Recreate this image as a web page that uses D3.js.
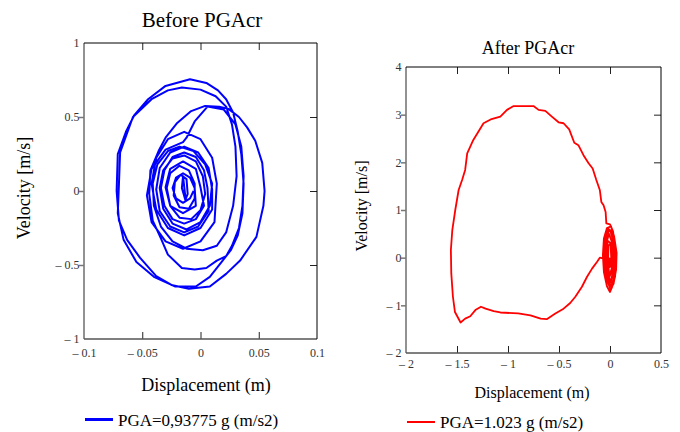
<!DOCTYPE html>
<meta charset="utf-8">
<html>
<head>
<title>Phase portraits</title>
<style>
  body { margin: 0; background: #fff; }
</style>
<script src="https://cdn.jsdelivr.net/npm/d3@7"></script>
</head>
<body>
<script>

// ---- data: [displacement (m), velocity (m/s)] ----

// before PGAcr: small loops growing out of the centre
var beforeInner = [
  [-0.006,0.00],[-0.009,-0.05],[-0.015,-0.08],[-0.021,-0.05],[-0.024,0.02],[-0.021,0.09],[-0.015,0.12],[-0.009,0.09],[-0.005,0.02],
  [-0.004,-0.10],[-0.015,-0.15],[-0.026,-0.10],[-0.030,0.025],[-0.026,0.15],[-0.015,0.20],[-0.004,0.15],[0.000,0.025],
  [0.003,-0.10],[-0.004,-0.19],[-0.014,-0.22],[-0.024,-0.19],[-0.031,-0.10],[-0.034,0.02],[-0.031,0.14],[-0.024,0.23],[-0.014,0.26],[-0.004,0.23],[0.003,0.14],[0.006,0.02],
  [0.007,-0.135],[-0.002,-0.24],[-0.014,-0.28],[-0.026,-0.24],[-0.035,-0.135],[-0.038,0.01],[-0.035,0.155],[-0.026,0.26],[-0.014,0.30],[-0.002,0.26],[0.007,0.155],[0.010,0.01],
  [0.010,-0.125],[0.000,-0.25],[-0.014,-0.30],[-0.028,-0.25],[-0.038,-0.125],[-0.042,0.05],[-0.038,0.225],[-0.028,0.35],[-0.014,0.40],[0.000,0.35],[0.010,0.225],[0.014,0.05],
  [0.012,-0.21],[0.000,-0.34],[-0.015,-0.39],[-0.030,-0.34],[-0.042,-0.21],[-0.046,-0.03],[-0.042,0.15],[-0.030,0.28],[-0.015,0.33]
];

// before PGAcr: the 0.57 loop
var beforeMid = [
  [-0.012,0.36],[-0.005,0.47],[0.006,0.57],[0.020,0.55],[0.030,0.45],[0.035,0.30],[0.037,0.10],[0.036,-0.10],[0.033,-0.25],
  [0.027,-0.37],[0.022,-0.44],[0.014,-0.47],[0.005,-0.52],[-0.005,-0.53],[-0.016,-0.52],[-0.028,-0.43],[-0.034,-0.32],
  [-0.041,-0.20],[-0.044,-0.02],[-0.043,0.14],[-0.036,0.27],[-0.030,0.36],[-0.020,0.46],[-0.008,0.54],[0.004,0.575],
  [0.016,0.57],[0.024,0.555]
];

// before PGAcr: the two large loops
var beforeOuter = [
  [0.033,0.50],[0.040,0.43],[0.047,0.34],[0.053,0.19],[0.055,0.0],[0.054,-0.10],[0.048,-0.31],[0.034,-0.47],[0.022,-0.56],
  [0.008,-0.645],[-0.010,-0.66],[-0.025,-0.635],[-0.038,-0.575],[-0.052,-0.45],[-0.063,-0.33],[-0.070,-0.20],[-0.072,0.0],
  [-0.071,0.25],[-0.064,0.40],[-0.057,0.51],[-0.045,0.62],[-0.030,0.71],[-0.009,0.755],[0.005,0.73],[0.015,0.68],[0.022,0.62],
  [0.028,0.53],[0.032,0.40],[0.035,0.25],[0.037,0.05],[0.036,-0.15],[0.032,-0.30],[0.026,-0.40],[0.018,-0.48],[0.008,-0.58],
  [-0.004,-0.645],[-0.022,-0.645],[-0.040,-0.58],[-0.055,-0.48],[-0.066,-0.33],[-0.071,-0.15],[-0.070,0.05],[-0.069,0.26],
  [-0.058,0.50],[-0.042,0.62],[-0.028,0.68],[-0.016,0.70],[0.000,0.685],[0.013,0.64],[0.022,0.57]
];

// before PGAcr: decay back into the centre
var beforeDecay = [
  [0.027,0.45],[0.030,0.30],[0.031,0.10],[0.028,-0.10],[0.022,-0.28],[0.014,-0.37],[0.002,-0.40],[-0.012,-0.39],[-0.024,-0.34],
  [-0.034,-0.24],[-0.040,-0.10],[-0.041,0.05],[-0.037,0.18],[-0.028,0.27],[-0.018,0.30],[-0.006,0.27],[0.004,0.18],[0.010,0.05],
  [0.008,-0.10],[0.000,-0.21],[-0.012,-0.26],[-0.024,-0.22],[-0.032,-0.12],[-0.035,0.02],[-0.032,0.14],[-0.024,0.22],[-0.014,0.24],
  [-0.004,0.20],[0.002,0.10],[0.004,-0.02],
  [0.000,-0.13],[-0.008,-0.19],[-0.018,-0.18],[-0.026,-0.10],[-0.029,0.02],[-0.026,0.12],[-0.018,0.17],[-0.010,0.14],[-0.005,0.05],[-0.005,-0.05],
  [-0.010,-0.12],[-0.018,-0.11],[-0.023,-0.03],[-0.022,0.06],[-0.017,0.11],[-0.012,0.08],[-0.011,-0.02],[-0.013,-0.06],[-0.016,0.02],[-0.015,0.10],[-0.013,-0.04]
];

// after PGAcr: oscillation near zero before the slide
var afterPre = [
  [0.0,0.0],[0.02,-0.2],[0.0,-0.35],[-0.03,-0.2],[-0.04,0.1],[-0.02,0.35],[0.01,0.3],[0.03,0.05],[0.03,-0.3],[0.005,-0.5],
  [-0.04,-0.35],[-0.06,0.0],[-0.05,0.4],[-0.02,0.6],[0.02,0.55],[0.05,0.2],[0.03,-0.05],[-0.06,-0.02],[-0.10,0.0]
];

// after PGAcr: the big excursion
var afterLoop = [
  [-0.128,-0.09],[-0.176,-0.23],[-0.225,-0.40],[-0.275,-0.61],[-0.34,-0.82],[-0.39,-0.95],[-0.455,-1.07],[-0.536,-1.17],
  [-0.62,-1.29],[-0.68,-1.28],[-0.78,-1.21],[-0.90,-1.17],[-1.075,-1.15],[-1.14,-1.12],[-1.22,-1.07],[-1.265,-1.03],
  [-1.32,-1.10],[-1.37,-1.23],[-1.42,-1.28],[-1.465,-1.36],[-1.52,-1.14],[-1.54,-0.82],[-1.556,-0.33],[-1.56,0.16],
  [-1.546,0.58],[-1.517,1.0],[-1.484,1.42],[-1.45,1.63],[-1.42,1.84],[-1.40,2.19],[-1.34,2.47],[-1.24,2.82],[-1.17,2.90],
  [-1.075,2.96],[-1.01,3.10],[-0.945,3.18],[-0.75,3.18],[-0.70,3.10],[-0.634,3.08],[-0.57,2.96],[-0.504,2.84],[-0.455,2.82],
  [-0.40,2.69],[-0.35,2.41],[-0.31,2.36],[-0.26,2.15],[-0.21,1.98],[-0.17,1.87],[-0.134,1.63],[-0.10,1.42],[-0.085,1.17],
  [-0.063,1.10],[-0.043,0.96],[-0.036,0.72]
];

// after PGAcr: oscillation near zero after the slide
var afterPost = [
  [0.00,0.70],[0.03,0.55],[0.05,0.2],[0.06,-0.1],[0.05,-0.4],[0.02,-0.62],[0.00,-0.72],[-0.03,-0.6],[-0.06,-0.3],[-0.07,0.05],
  [-0.06,0.4],[-0.03,0.62],[0.01,0.66],[0.04,0.45],[0.065,0.1],[0.06,-0.25],[0.035,-0.55],[0.005,-0.66],[-0.025,-0.5],
  [-0.05,-0.2],[-0.06,0.15],[-0.045,0.45],[-0.015,0.6],[0.02,0.55],[0.045,0.25],[0.05,-0.1],[0.035,-0.45],[0.01,-0.6],
  [-0.02,-0.45],[-0.04,-0.15],[-0.045,0.2],[-0.03,0.5],[0.0,0.58],[0.025,0.4],[0.04,0.05],[0.03,-0.35],[0.005,-0.52],
  [-0.02,-0.35],[-0.035,0.0],[-0.03,0.35],[-0.01,0.5],[0.015,0.35],[0.025,0.0],[0.015,-0.3],[-0.005,-0.4],[-0.02,-0.1],
  [-0.015,0.25],[0.005,0.3],[0.012,0.0],[0.0,-0.2],[-0.01,0.0]
];

var beforeXTicks = [-0.1, -0.05, 0, 0.05, 0.1];
var beforeYTicks = [-1, -0.5, 0, 0.5, 1];
var afterXTicks = [-2, -1.5, -1, -0.5, 0, 0.5];
var afterYTicks = [-2, -1, 0, 1, 2, 3, 4];

// ---- drawing ----

var width = 680, height = 432;
var serif = "'Liberation Serif', 'Times New Roman', Times, serif";

var svg = d3.select("body").append("svg")
    .attr("width", width)
    .attr("height", height)
    .attr("font-family", serif);

// mathcad style minus: "– 0.5"
var fmt = function(d) {
  return d < 0 ? "\u2013 " + (-d) : "" + d;
}

var drawPanel = function(p) {
  var x = d3.scaleLinear().domain(p.xDomain).range(p.xRange);
  var y = d3.scaleLinear().domain(p.yDomain).range(p.yRange);
  var x0 = p.xRange[0], x1 = p.xRange[1], y0 = p.yRange[1], y1 = p.yRange[0];
  var xIn = p.xTicks.slice(1, -1), yIn = p.yTicks.slice(1, -1);

  svg.append("clipPath").attr("id", p.id)
    .append("rect").attr("x", x0).attr("y", y0).attr("width", x1 - x0).attr("height", y1 - y0);

  var line = d3.line().x(d => x(d[0])).y(d => y(d[1]));
  svg.append("path")
    .datum(p.data)
    .attr("d", line)
    .attr("clip-path", "url(#" + p.id + ")")
    .style("fill", "none")
    .style("stroke", p.color)
    .style("stroke-width", p.width)
    .style("stroke-linejoin", "round");

  // tick labels
  var gl = svg.append("g").attr("transform", `translate(${x0},0)`)
    .call(d3.axisLeft(y).tickValues(p.yTicks).tickSize(0).tickPadding(p.yPad).tickFormat(fmt));
  var gb = svg.append("g").attr("transform", `translate(0,${y1})`)
    .call(d3.axisBottom(x).tickValues(p.xTicks).tickSize(0).tickPadding(p.xPad).tickFormat(fmt));
  [gl, gb].forEach(function(g) {
    g.select(".domain").remove();
    g.attr("font-family", serif).attr("font-size", 12);
    g.selectAll("text").style("font-family", serif).style("fill", "#333");
  });

  // tick marks
  var tl = svg.append("g").attr("transform", `translate(${x0},0)`)
    .call(d3.axisLeft(y).tickValues(yIn).tickSize(5).tickFormat(""));
  var tb = svg.append("g").attr("transform", `translate(0,${y1})`)
    .call(d3.axisBottom(x).tickValues(xIn).tickSize(-7).tickFormat(""));
  var tt = svg.append("g").attr("transform", `translate(0,${y0})`)
    .call(d3.axisTop(x).tickValues(xIn).tickSize(-7).tickFormat(""));
  var tr = svg.append("g").attr("transform", `translate(${x1},0)`)
    .call(d3.axisRight(y).tickValues(yIn).tickSize(-7).tickFormat(""));
  [tl, tb, tt, tr].forEach(g => g.select(".domain").remove());
  tl.selectAll("line").style("stroke", "#777").style("stroke-width", 1.5);
  [tb, tt, tr].forEach(g => g.selectAll("line").style("stroke", "#222"));

  // frame: left / bottom grey, top / right black
  svg.append("line").attr("x1", x0).attr("x2", x0).attr("y1", y0).attr("y2", y1)
    .style("stroke", "#777").style("stroke-width", 1.6);
  svg.append("line").attr("x1", x0).attr("x2", x1).attr("y1", y1).attr("y2", y1)
    .style("stroke", "#555").style("stroke-width", 1.3);
  svg.append("line").attr("x1", x0).attr("x2", x1).attr("y1", y0).attr("y2", y0)
    .style("stroke", "#000").style("stroke-width", 1);
  svg.append("line").attr("x1", x1).attr("x2", x1).attr("y1", y0).attr("y2", y1)
    .style("stroke", "#000").style("stroke-width", 1);

  // titles
  svg.append("text").attr("x", p.title[1]).attr("y", p.title[2])
    .attr("text-anchor", "middle").style("font-family", serif)
    .style("font-size", p.title[3] + "px").text(p.title[0]);
  svg.append("text").attr("x", p.xLabel[1]).attr("y", p.xLabel[2])
    .attr("text-anchor", "middle").style("font-family", serif)
    .style("font-size", p.labelSize + "px").text(p.xLabel[0]);
  svg.append("text")
    .attr("transform", `translate(${p.yLabel[1]},${p.yLabel[2]}) rotate(-90)`)
    .attr("text-anchor", "middle").style("font-family", serif)
    .style("font-size", p.labelSize + "px").text(p.yLabel[0]);

  // legend
  svg.append("line").attr("x1", p.legend[1]).attr("x2", p.legend[1] + 28)
    .attr("y1", p.legend[2]).attr("y2", p.legend[2])
    .style("stroke", p.color).style("stroke-width", p.legend[3]);
  svg.append("text").attr("x", p.legend[1] + 33).attr("y", p.legend[2] + 6)
    .style("font-family", serif).style("font-size", "17px").text(p.legend[0]);
}

drawPanel({
  id: "clipBefore",
  data: beforeInner.concat(beforeMid, beforeOuter, beforeDecay),
  color: "#0000ff", width: 2,
  xDomain: [-0.1, 0.1], xRange: [84, 317],
  yDomain: [-1, 1], yRange: [339, 43],
  xTicks: beforeXTicks, yTicks: beforeYTicks,
  xPad: 9, yPad: 4.5,
  title: ["Before PGAcr", 202, 27, 21],
  xLabel: ["Displacement (m)", 206, 391],
  yLabel: ["Velocity [m/s]", 30, 188],
  labelSize: 18,
  legend: ["PGA=0,93775 g (m/s2)", 85, 419.5, 3]
});

drawPanel({
  id: "clipAfter",
  data: afterPre.concat(afterLoop, afterPost),
  color: "#ff0000", width: 1.8,
  xDomain: [-2, 0.5], xRange: [406, 661],
  yDomain: [-2, 4], yRange: [353, 67],
  xTicks: afterXTicks, yTicks: afterYTicks,
  xPad: 6, yPad: 4.5,
  title: ["After PGAcr", 528, 54, 18],
  xLabel: ["Displacement (m)", 532, 398],
  yLabel: ["Velocity [m/s]", 367, 206],
  labelSize: 16,
  legend: ["PGA=1.023 g (m/s2)", 407, 422, 2]
});

</script>
</body>
</html>
